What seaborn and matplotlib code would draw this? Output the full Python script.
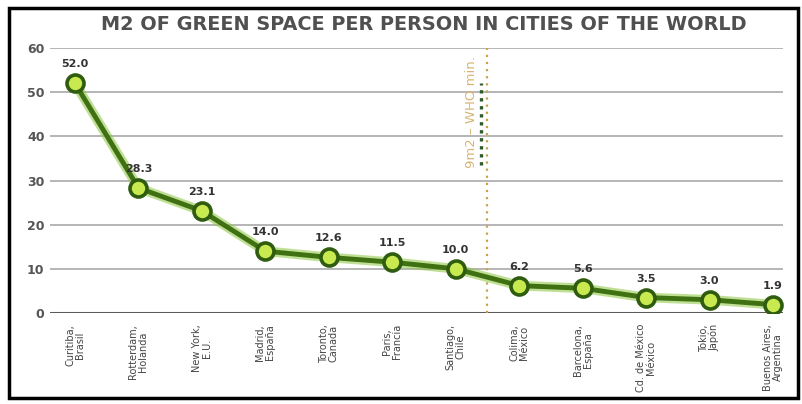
import matplotlib
matplotlib.use("Agg")
import matplotlib.pyplot as plt
import matplotlib.patheffects as pe
from matplotlib.patches import Rectangle
import seaborn as sns
import pandas as pd
import numpy as np

cities = ["Curitiba,\nBrasil", "Rotterdam,\nHolanda", "New York,\nE.U.", "Madrid,\nEspaña",
          "Toronto,\nCanada", "Paris,\nFrancia", "Santiago,\nChile", "Colima,\nMéxico",
          "Barcelona,\nEspaña", "Cd. de México\nMéxico", "Tokio,\nJapón", "Buenos Aires,\nArgentina"]
values = [52.0, 28.3, 23.1, 14.0, 12.6, 11.5, 10.0, 6.2, 5.6, 3.5, 3.0, 1.9]
yticks = [0, 10, 20, 30, 40, 50, 60]
title = "M2 OF GREEN SPACE PER PERSON IN CITIES OF THE WORLD"
who_label = "9m2 – WHO min."

sns.set_style("white")
plt.rcParams['font.family'] = ['DejaVu Sans']

W, H = 803, 404
fig = plt.figure(figsize=(W/100, H/100), dpi=100)
ax = fig.add_axes([50/W, 1-313/H, 733/W, (313-48)/H])

df = pd.DataFrame({"pos": np.arange(len(cities)), "val": values})

for y in yticks[1:]:
    ax.axhline(y, color="#b5b5b5", lw=1.4, zorder=0)
ax.axhline(0, color="#5a5a5a", lw=2.2, zorder=1)

# WHO min line
ax.axvline(6.5, color="#c9a24a", lw=1.6, ls=(0, (1, 2.2)), zorder=1)
ax.plot([6.4, 6.4], [33.5, 52], color="#2f5a2a", lw=2.4, ls=(0, (1, 1.4)), zorder=1)
ax.text(6.25, 45.5, who_label, rotation=90, ha="center", va="center",
        color="#d8b574", fontsize=9.5, family="DejaVu Sans")

sns.lineplot(data=df, x="pos", y="val", ax=ax, color="#3f7012", lw=3.5, zorder=3,
             path_effects=[pe.Stroke(linewidth=7, foreground="#8cc63f", alpha=0.55), pe.Normal()])
sns.scatterplot(data=df, x="pos", y="val", ax=ax, s=150, color="#c8ea50",
                edgecolor="#2f5c0e", linewidth=2.6, zorder=4)

for i, v in enumerate(values):
    ax.annotate(f"{v:.1f}", (i, v), xytext=(0, 10), textcoords="offset points",
                ha="center", va="bottom", fontsize=8, fontweight="bold", color="#333333", zorder=5)

ax.set_xlim(-0.394, 11.158)
ax.set_ylim(0, 60)
ax.set_yticks(yticks)
ax.set_yticklabels([str(t) for t in yticks], fontsize=9, fontweight="bold", color="#555555")
ax.set_xticks(range(len(cities)))
ax.set_xticklabels(cities, rotation=90, fontsize=7, color="#444444", va="top",
                   linespacing=1.0, family=["Liberation Sans Narrow", "DejaVu Sans"])
ax.tick_params(axis="y", length=0, pad=4)
ax.tick_params(axis="x", length=0, pad=8)
ax.set_xlabel("")
ax.set_ylabel("")
for s in ax.spines.values():
    s.set_visible(False)

fig.text(424/W, 1-25/H, title, ha="center", va="center", fontsize=13.9, color="#505050",
         fontweight="bold", family=["DejaVu Sans"])

fig.patches.append(Rectangle((9/W, 1-398/H), 789/W, 390/H, transform=fig.transFigure,
                             fill=False, edgecolor="black", lw=2.5))

fig.savefig("out.png", dpi=100, facecolor="white")
